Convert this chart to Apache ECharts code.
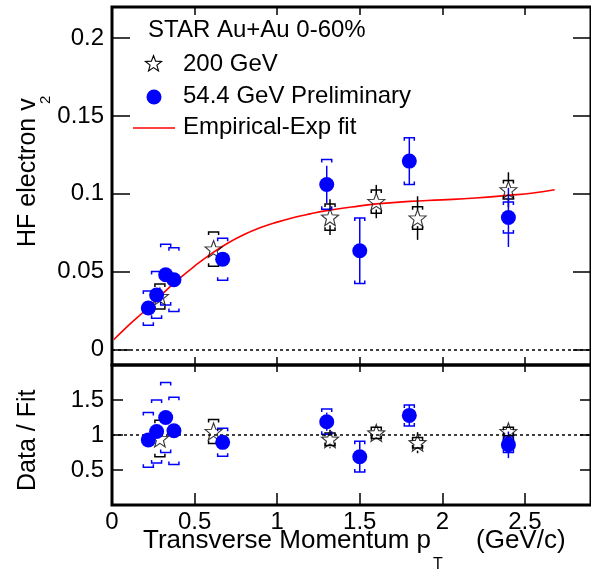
<!DOCTYPE html>
<html>
<head>
<meta charset="utf-8">
<script src="https://cdn.jsdelivr.net/npm/echarts@6/dist/echarts.min.js"></script>
<style>
html,body{margin:0;padding:0;background:#fff}
#main{width:591px;height:575px}
</style>
</head>
<body>
<div id="main"></div>
<script>
// 200 GeV (open stars)
var ptStar = [0.29, 0.615, 1.32, 1.6, 1.85, 2.4];
var v2Star = [0.034, 0.0645, 0.085, 0.095, 0.0844, 0.1026];
var statStar = [0.002, 0.002, 0.0115, 0.0107, 0.014, 0.0112];
var sysStar = [0.008, 0.011, 0.0085, 0.0075, 0.0072, 0.006];

// 54.4 GeV Preliminary (full circles)
var ptDot = [0.22, 0.27, 0.325, 0.375, 0.67, 1.3, 1.5, 1.8, 2.4];
var v2Dot = [0.0266, 0.035, 0.048, 0.0448, 0.058, 0.106, 0.0634, 0.121, 0.0848];
var statDot = [0.003, 0.003, 0.003, 0.003, 0.004, 0.012, 0.021, 0.015, 0.019];
var sysDot = [0.011, 0.015, 0.0195, 0.0205, 0.0135, 0.016, 0.021, 0.015, 0.010];

// Empirical-Exp fit
var fitPt = [0.01, 0.1, 0.2, 0.3, 0.4, 0.5, 0.6, 0.7, 0.8, 0.9, 1.0, 1.1, 1.2, 1.3, 1.45, 1.6, 1.8, 2.0, 2.2, 2.4, 2.55, 2.68];
var fitV2 = [0.0062, 0.0155, 0.025, 0.0352, 0.0448, 0.0535, 0.0614, 0.0682, 0.0738, 0.0783, 0.0818, 0.0847, 0.0871, 0.0892, 0.0915, 0.0935, 0.0951, 0.0961, 0.0973, 0.099, 0.1005, 0.1026];

// Data / Fit
var ratioStar = [0.95, 1.05, 0.94, 1.03, 0.89, 1.05];
var ratioStatStar = [0.06, 0.03, 0.13, 0.11, 0.15, 0.11];
var ratioSysStar = [0.26, 0.17, 0.09, 0.08, 0.075, 0.06];
var ratioDot = [0.93, 1.05, 1.25, 1.06, 0.895, 1.19, 0.69, 1.28, 0.86];
var ratioStatDot = [0.05, 0.05, 0.05, 0.05, 0.06, 0.13, 0.22, 0.15, 0.19];
var ratioSysDot = [0.39, 0.45, 0.5, 0.48, 0.2, 0.18, 0.22, 0.15, 0.11];

var xTicks = [0, 0.5, 1, 1.5, 2, 2.5];
var yTicksTop = [0, 0.05, 0.1, 0.15, 0.2];
var yTicksRatio = [0.5, 1, 1.5];

var FONT = '"Liberation Sans", Arial, sans-serif';
var BLUE = '#0000ff';
var STAR = 'path://M0,-10L2.47,-3.4L9.51,-3.09L3.99,1.3L5.88,8.09L0,4.2L-5.88,8.09L-3.99,1.3L-9.51,-3.09L-2.47,-3.4Z';

function zip4(a, b, c, d) {
	return a.map(function(x, i) { return [x, b[i], c[i], d[i]]; });
}

// stat bar (gap at the marker) + sys brackets
function errorRender(color, gap) {
	return function(params, api) {
		var x = api.value(0), y = api.value(1), st = api.value(2), sy = api.value(3);
		var c = api.coord([x, y]);
		var hi = api.coord([x, y + st])[1], lo = api.coord([x, y - st])[1];
		var sHi = api.coord([x, y + sy])[1], sLo = api.coord([x, y - sy])[1];
		var kids = [];
		function st_() { return { stroke: color, lineWidth: 1.5, fill: null }; }
		if (c[1] - hi > gap) kids.push({ type: 'line', shape: { x1: c[0], y1: hi, x2: c[0], y2: c[1] - gap }, style: st_() });
		if (lo - c[1] > gap) kids.push({ type: 'line', shape: { x1: c[0], y1: c[1] + gap, x2: c[0], y2: lo }, style: st_() });
		kids.push({ type: 'polyline', shape: { points: [[c[0] - 5, sHi + 3], [c[0] - 5, sHi], [c[0] + 5, sHi], [c[0] + 5, sHi + 3]] }, style: st_() });
		kids.push({ type: 'polyline', shape: { points: [[c[0] - 5, sLo - 3], [c[0] - 5, sLo], [c[0] + 5, sLo], [c[0] + 5, sLo - 3]] }, style: st_() });
		return { type: 'group', children: kids };
	};
}

function xAx(grid, pos, len, labels) {
	return {
		type: 'value', gridIndex: grid, position: pos, min: 0, max: 2.9,
		axisLine: { show: false, onZero: false }, splitLine: { show: false },
		axisTick: { inside: true, length: len, lineStyle: { color: '#000', width: 1.5 }, customValues: xTicks },
		axisLabel: { show: labels, customValues: xTicks, margin: 5, fontSize: 24, fontFamily: FONT, color: '#000' }
	};
}
function yAx(grid, pos, min, max, ticks, len, labels) {
	return {
		type: 'value', gridIndex: grid, position: pos, min: min, max: max,
		axisLine: { show: false, onZero: false }, splitLine: { show: false },
		axisTick: { inside: true, length: len, lineStyle: { color: '#000', width: 1.5 }, customValues: ticks },
		axisLabel: { show: labels, customValues: ticks, margin: 8, fontSize: 24, fontFamily: FONT, color: '#000' }
	};
}

var starPts = [[0,-10],[2.47,-3.4],[9.51,-3.09],[3.99,1.3],[5.88,8.09],[0,4.2],[-5.88,8.09],[-3.99,1.3],[-9.51,-3.09],[-2.47,-3.4]];

var myChart = echarts.init(document.getElementById('main'));
var option = {
	animation: false,
	backgroundColor: '#fff',
	grid: [
		{ left: 112, top: 7, width: 487, height: 358, show: true, borderColor: '#000', borderWidth: 3, backgroundColor: 'transparent' },
		{ left: 112, top: 365, width: 487, height: 140, show: true, borderColor: '#000', borderWidth: 3, backgroundColor: 'transparent' }
	],
	xAxis: [
		xAx(0, 'bottom', 8, false),
		xAx(0, 'top', 8, false),
		xAx(1, 'bottom', 12, true),
		xAx(1, 'top', 7, false)
	],
	yAxis: [
		yAx(0, 'left', -0.01, 0.22, yTicksTop, 18, true),
		yAx(0, 'right', -0.01, 0.22, yTicksTop, 18, false),
		yAx(1, 'left', 0, 2, yTicksRatio, 11, true),
		yAx(1, 'right', 0, 2, yTicksRatio, 11, false)
	],
	series: [
		{
			type: 'line', xAxisIndex: 0, yAxisIndex: 0, z: 2,
			data: fitPt.map(function(x, i) { return [x, fitV2[i]]; }),
			smooth: true, showSymbol: false, symbol: 'none',
			lineStyle: { color: '#ff0000', width: 1.6 },
			markLine: { silent: true, symbol: 'none', label: { show: false },
				lineStyle: { color: '#000', type: [3, 3], width: 1.5 }, data: [{ yAxis: 0 }] }
		},
		{ type: 'custom', xAxisIndex: 0, yAxisIndex: 0, z: 3, renderItem: errorRender('#000', 8),
			data: zip4(ptStar, v2Star, statStar, sysStar), encode: { x: 0, y: 1 } },
		{ type: 'custom', xAxisIndex: 0, yAxisIndex: 0, z: 3, renderItem: errorRender(BLUE, 7),
			data: zip4(ptDot, v2Dot, statDot, sysDot), encode: { x: 0, y: 1 } },
		{ type: 'scatter', xAxisIndex: 0, yAxisIndex: 0, z: 4, symbol: STAR, symbolSize: 17,
			itemStyle: { color: 'rgba(0,0,0,0)', borderColor: '#000', borderWidth: 1.1 },
			data: ptStar.map(function(x, i) { return [x, v2Star[i]]; }) },
		{ type: 'scatter', xAxisIndex: 0, yAxisIndex: 0, z: 5, symbol: 'circle', symbolSize: 15,
			itemStyle: { color: BLUE, opacity: 1 },
			data: ptDot.map(function(x, i) { return [x, v2Dot[i]]; }) },

		{ type: 'custom', xAxisIndex: 2, yAxisIndex: 2, z: 3, renderItem: errorRender('#000', 8),
			data: zip4(ptStar, ratioStar, ratioStatStar, ratioSysStar), encode: { x: 0, y: 1 } },
		{ type: 'custom', xAxisIndex: 2, yAxisIndex: 2, z: 3, renderItem: errorRender(BLUE, 7),
			data: zip4(ptDot, ratioDot, ratioStatDot, ratioSysDot), encode: { x: 0, y: 1 } },
		{ type: 'scatter', xAxisIndex: 2, yAxisIndex: 2, z: 4, symbol: STAR, symbolSize: 17,
			itemStyle: { color: 'rgba(0,0,0,0)', borderColor: '#000', borderWidth: 1.1 },
			data: ptStar.map(function(x, i) { return [x, ratioStar[i]]; }),
			markLine: { silent: true, symbol: 'none', label: { show: false },
				lineStyle: { color: '#000', type: [3, 3], width: 1.5 }, data: [{ yAxis: 1 }] } },
		{ type: 'scatter', xAxisIndex: 2, yAxisIndex: 2, z: 5, symbol: 'circle', symbolSize: 15,
			itemStyle: { color: BLUE, opacity: 1 },
			data: ptDot.map(function(x, i) { return [x, ratioDot[i]]; }) }
	],
	graphic: [
		{ type: 'text', x: 148, y: 30, style: { text: 'STAR Au+Au 0-60%', fontSize: 24, fontFamily: FONT, fill: '#000', verticalAlign: 'middle' } },
		{ type: 'polygon', x: 153.5, y: 64, scaleX: 0.85, scaleY: 0.85, shape: { points: starPts }, style: { fill: 'none', stroke: '#000', lineWidth: 1.3 } },
		{ type: 'text', x: 183, y: 64, style: { text: '200 GeV', fontSize: 24, fontFamily: FONT, fill: '#000', verticalAlign: 'middle' } },
		{ type: 'circle', shape: { cx: 154, cy: 97, r: 7.5 }, style: { fill: BLUE } },
		{ type: 'text', x: 183, y: 96, style: { text: '54.4 GeV Preliminary', fontSize: 24, fontFamily: FONT, fill: '#000', verticalAlign: 'middle' } },
		{ type: 'line', shape: { x1: 133, y1: 128, x2: 175, y2: 128 }, style: { stroke: '#ff0000', lineWidth: 1.6 } },
		{ type: 'text', x: 183, y: 127.5, style: { text: 'Empirical-Exp fit', fontSize: 24, fontFamily: FONT, fill: '#000', verticalAlign: 'middle' } },
		{ type: 'group', x: 28, y: 247, rotation: Math.PI / 2, children: [
			{ type: 'text', x: 0, y: 0, style: { text: 'HF electron v', fontSize: 25, fontFamily: FONT, fill: '#000', verticalAlign: 'middle' } },
			{ type: 'text', x: 143, y: 18, style: { text: '2', fontSize: 15, fontFamily: FONT, fill: '#000', verticalAlign: 'middle' } }
		] },
		{ type: 'group', x: 28, y: 491, rotation: Math.PI / 2, children: [
			{ type: 'text', x: 0, y: 0, style: { text: 'Data / Fit', fontSize: 25, fontFamily: FONT, fill: '#000', verticalAlign: 'middle' } }
		] },
		{ type: 'text', x: 143, y: 541, style: { text: 'Transverse Momentum p', fontSize: 26, fontFamily: FONT, fill: '#000', verticalAlign: 'middle' } },
		{ type: 'text', x: 433, y: 565, style: { text: 'T', fontSize: 16, fontFamily: FONT, fill: '#000', verticalAlign: 'middle' } },
		{ type: 'text', x: 476, y: 541, style: { text: '(GeV/c)', fontSize: 26, fontFamily: FONT, fill: '#000', verticalAlign: 'middle' } }
	]
};
myChart.setOption(option);
</script>
</body>
</html>
